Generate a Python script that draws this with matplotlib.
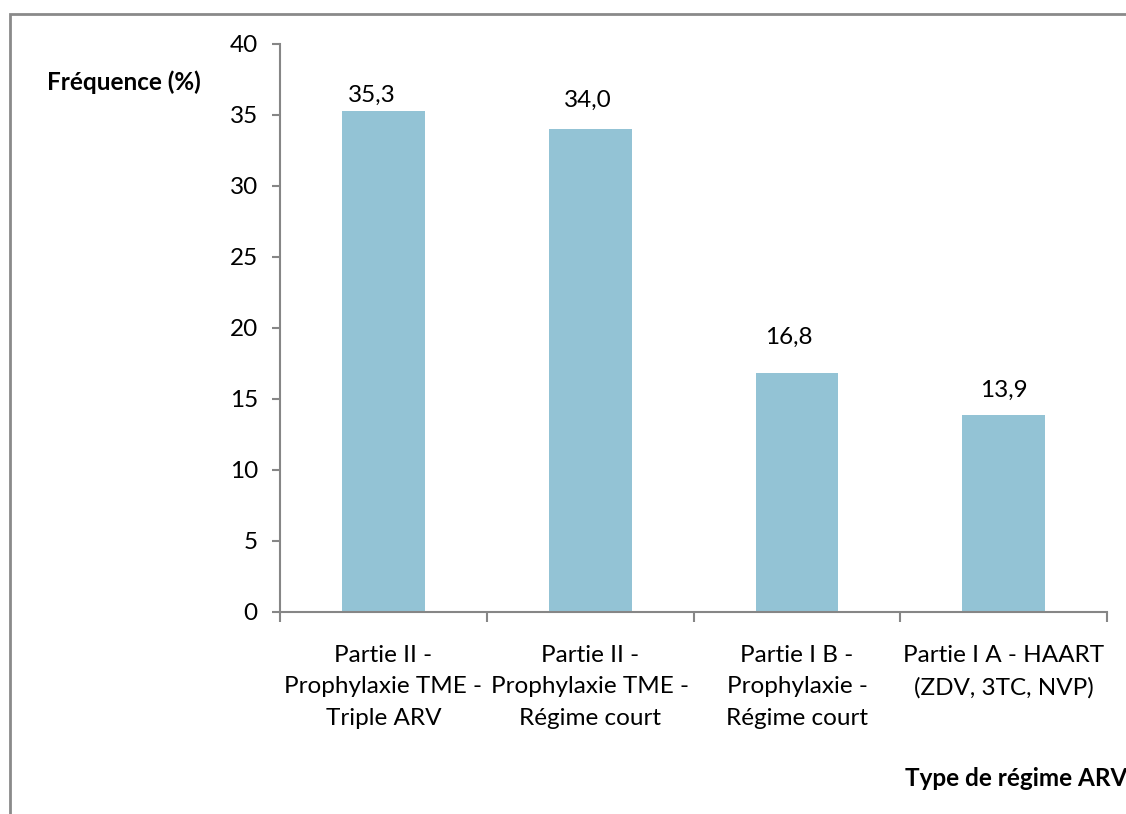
import matplotlib.pyplot as plt
from matplotlib.patches import Rectangle

categories = [
    "Partie II -\nProphylaxie TME -\nTriple ARV",
    "Partie II -\nProphylaxie TME -\nRégime court",
    "Partie I B -\nProphylaxie -\nRégime court",
    "Partie I A - HAART\n(ZDV, 3TC, NVP)",
]
frequences = [35.3, 34.0, 16.8, 13.9]
y_ticks = [0, 5, 10, 15, 20, 25, 30, 35, 40]

plt.rcParams['font.family'] = ['Lato', 'DejaVu Sans']
plt.rcParams['font.size'] = 17.5

bar_color = '#93c3d5'
axis_color = '#868686'
# hand-placed value labels: offset (points) from the top centre of each bar
label_offsets = [(-8, 6.5), (-2, 16.3), (-6, 21), (0, 13)]

fig = plt.figure(figsize=(11.26, 8.14), dpi=100)
ax = fig.add_axes([0.2487, 0.2482, 0.7345, 0.6978])

x = list(range(len(categories)))
bars = ax.bar(x, frequences, width=0.4, color=bar_color)

# value labels above each bar, French decimal comma
for b, v, off in zip(bars, frequences, label_offsets):
    ax.annotate(f"{v:.1f}".replace('.', ','),
                (b.get_x() + b.get_width() / 2, v),
                xytext=off, textcoords='offset points',
                ha='center', va='baseline', fontsize=17.5)

ax.set_xlim(-0.5, len(categories) - 0.5)
ax.set_ylim(0, 40)
ax.set_yticks(y_ticks)

ax.set_xticks(x)
ax.set_xticklabels(categories, linespacing=1.6)
ax.tick_params(axis='x', which='major', length=0, pad=24)
ax.set_xticks([i - 0.5 for i in range(len(categories) + 1)], minor=True)
ax.tick_params(axis='x', which='minor', length=7, width=1.5, color=axis_color)
ax.tick_params(axis='y', length=6, width=1.5, color=axis_color, pad=10)

for side in ['top', 'right']:
    ax.spines[side].set_visible(False)
for side in ['left', 'bottom']:
    ax.spines[side].set_color(axis_color)
    ax.spines[side].set_linewidth(1.5)

fig.text(47 / 1126, 1 - 82 / 814, "Fréquence (%)", fontsize=17.5,
         fontweight='bold', va='center', ha='left')
fig.text(905 / 1126, 1 - 778 / 814, "Type de régime ARV", fontsize=17.5,
         fontweight='bold', va='center', ha='left')

# chart frame, running off the right and bottom edges
fig.patches.append(Rectangle((10 / 1126, -0.1), 1.2, 1.1 - 14 / 814,
                             transform=fig.transFigure, fill=False,
                             edgecolor='#8a8a8a', linewidth=2))

fig.savefig('out.png', dpi=100)
